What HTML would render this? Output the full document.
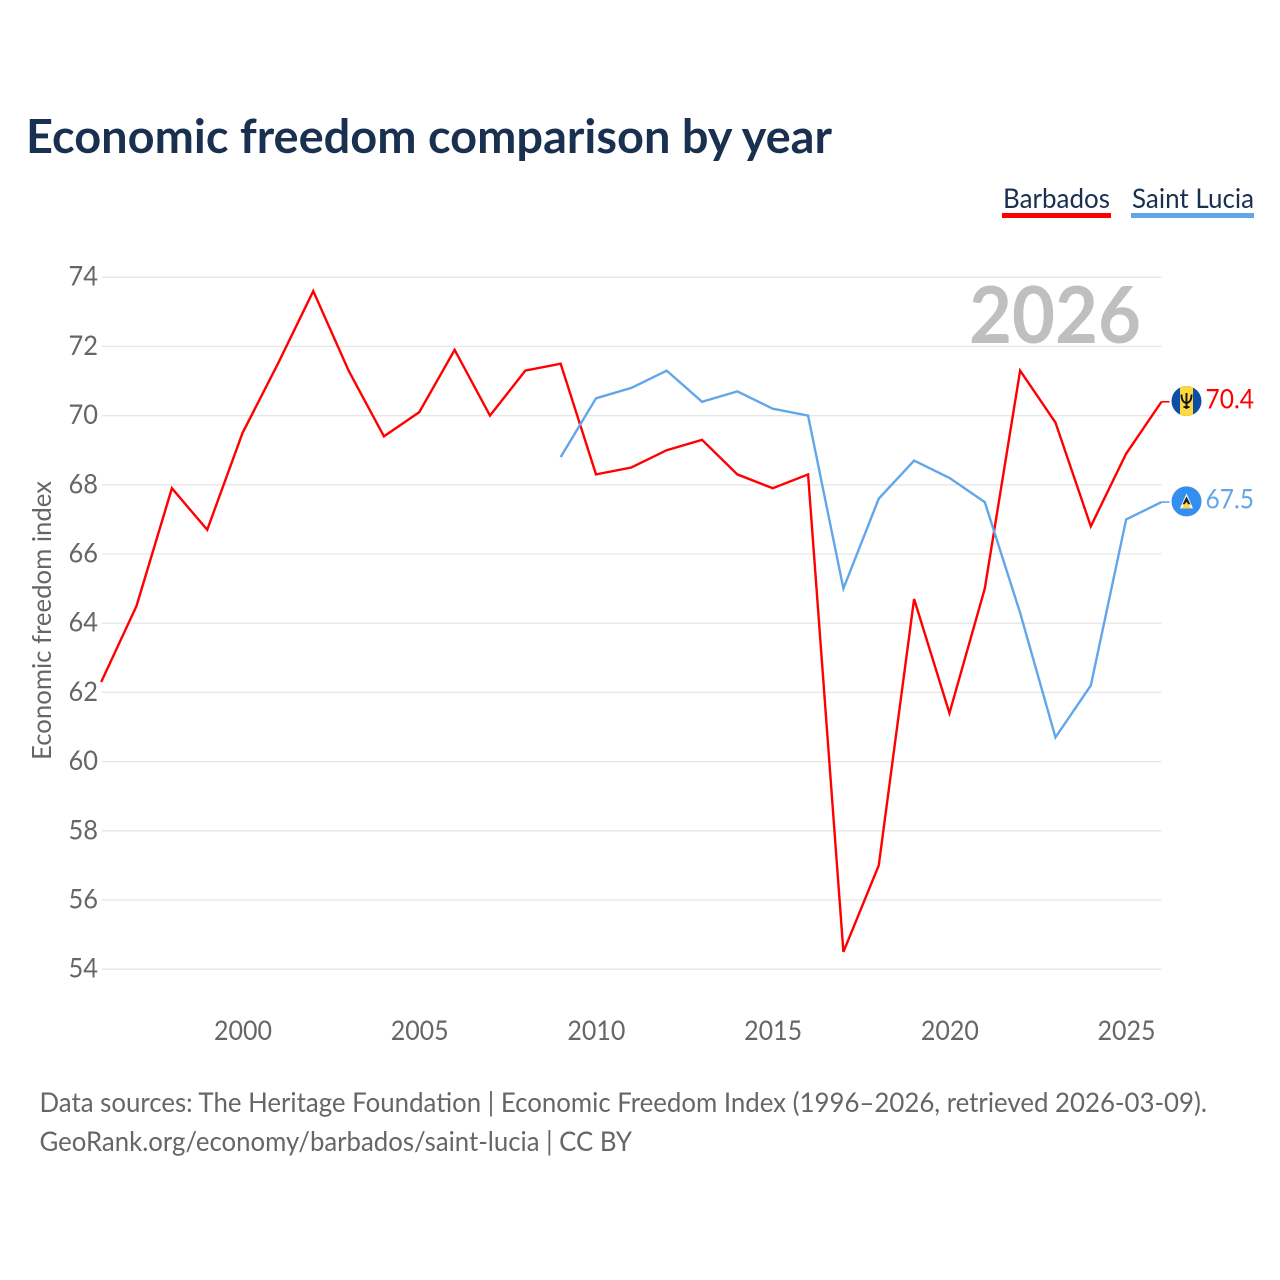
<!DOCTYPE html>
<html lang="en">
<head>
<meta charset="utf-8">
<title>Economic freedom comparison by year</title>
<style>
html,body{margin:0;padding:0;background:#fff;}
svg{display:block;}
text{font-family:"Lato","Carlito","Liberation Sans",sans-serif;}
</style>
</head>
<body>
<svg id="chart" xmlns="http://www.w3.org/2000/svg" width="1280" height="1280" viewBox="0 0 1280 1280">
  <rect width="1280" height="1280" fill="#ffffff"/>
  <text x="26" y="153" font-size="47" font-weight="700" fill="#1a3050" textLength="806" lengthAdjust="spacingAndGlyphs">Economic freedom comparison by year</text>

  <g>
    <g>
      <text x="1003" y="208" font-size="27" fill="#1a3050" textLength="107" lengthAdjust="spacingAndGlyphs">Barbados</text>
      <rect x="1002" y="213" width="109" height="5" fill="#ff0000"/>
    </g>
    <g>
      <text x="1132" y="208" font-size="27" fill="#1a3050" textLength="122" lengthAdjust="spacingAndGlyphs">Saint Lucia</text>
      <rect x="1131" y="213" width="123" height="5" fill="#62a6ea"/>
    </g>
  </g>

  <g id="grid"></g>
  <g id="yTicks"></g>
  <g id="xTicks"></g>

  <text transform="translate(51 760) rotate(-90)" font-size="26" fill="#666666" textLength="279" lengthAdjust="spacingAndGlyphs">Economic freedom index</text>
  <text id="yearWatermark" x="969" y="343" font-size="79" font-weight="700" fill="#bfbfbf" textLength="172" lengthAdjust="spacingAndGlyphs">2026</text>

  <g id="series"></g>
  <g id="ends"></g>

  <text x="39.5" y="1112" font-size="27" fill="#666666" textLength="1167.5" lengthAdjust="spacingAndGlyphs">Data sources: The Heritage Foundation | Economic Freedom Index (1996–2026, retrieved 2026-03-09).</text>
  <text x="39.5" y="1151" font-size="27" fill="#666666" textLength="592.5" lengthAdjust="spacingAndGlyphs">GeoRank.org/economy/barbados/saint-lucia | CC BY</text>
</svg>
<script>
const years = [1996,1997,1998,1999,2000,2001,2002,2003,2004,2005,2006,2007,2008,2009,2010,2011,2012,2013,2014,2015,2016,2017,2018,2019,2020,2021,2022,2023,2024,2025,2026];
const barbados = [62.3,64.5,67.9,66.7,69.5,71.5,73.6,71.3,69.4,70.1,71.9,70.0,71.3,71.5,68.3,68.5,69.0,69.3,68.3,67.9,68.3,54.5,57.0,64.7,61.4,65.0,71.3,69.8,66.8,68.9,70.4];
const saintLucia = [null,null,null,null,null,null,null,null,null,null,null,null,null,68.8,70.5,70.8,71.3,70.4,70.7,70.2,70.0,65.0,67.6,68.7,68.2,67.5,64.3,60.7,62.2,67.0,67.5];
const yTickLabels = [54,56,58,60,62,64,66,68,70,72,74];
const xTickLabels = [2000,2005,2010,2015,2020,2025];

const NS = 'http://www.w3.org/2000/svg';
const xScale = function (year) { return 101.2 + (year - 1996) * (1161.5 - 101.2) / 30; };
const yScale = function (value) { return 969.2 - (value - 54) * (969.2 - 277.2) / 20; };
const make = function (tag, parent) {
  const node = document.createElementNS(NS, tag);
  parent.appendChild(node);
  return node;
};
const gridGroup = document.getElementById('grid');
const yGroup = document.getElementById('yTicks');
const xGroup = document.getElementById('xTicks');
const seriesGroup = document.getElementById('series');
const endsGroup = document.getElementById('ends');

yTickLabels.forEach(function (tick) {
  const line = make('line', gridGroup);
  
  
  line.setAttribute('x1', 102);
  line.setAttribute('x2', 1161.5);
  line.setAttribute('y1', yScale(tick));
  line.setAttribute('y2', yScale(tick));
  line.setAttribute('stroke', '#e6e6e6');
  line.setAttribute('stroke-width', 1.3);
  const label = make('text', yGroup);
  
  
  label.setAttribute('x', 98);
  label.setAttribute('y', yScale(tick) + 8.5);
  label.setAttribute('text-anchor', 'end');
  label.setAttribute('font-size', 27);
  label.setAttribute('fill', '#666666');
  label.setAttribute('textLength', 29.5);
  label.setAttribute('lengthAdjust', 'spacingAndGlyphs');
  label.textContent = tick;
});

xTickLabels.forEach(function (tick) {
  const label = make('text', xGroup);
  
  
  label.setAttribute('x', xScale(tick) + 0.4);
  label.setAttribute('y', 1040);
  label.setAttribute('text-anchor', 'middle');
  label.setAttribute('font-size', 27);
  label.setAttribute('fill', '#666666');
  label.setAttribute('textLength', 58);
  label.setAttribute('lengthAdjust', 'spacingAndGlyphs');
  label.textContent = tick;
});

const linePath = function (values) {
  let d = '';
  values.forEach(function (value, i) {
    if (value === null) { return; }
    d += (d === '' ? 'M' : 'L') + xScale(years[i]).toFixed(2) + ' ' + yScale(value).toFixed(2);
  });
  return d;
};

const barbadosLine = make('path', seriesGroup);


barbadosLine.setAttribute('d', linePath(barbados));
barbadosLine.setAttribute('fill', 'none');
barbadosLine.setAttribute('stroke', '#ff0000');
barbadosLine.setAttribute('stroke-width', 2.4);

const luciaLine = make('path', seriesGroup);


luciaLine.setAttribute('d', linePath(saintLucia));
luciaLine.setAttribute('fill', 'none');
luciaLine.setAttribute('stroke', '#62a6ea');
luciaLine.setAttribute('stroke-width', 2.4);

const endY1 = yScale(barbados[barbados.length - 1]);
const endY2 = yScale(saintLucia[saintLucia.length - 1]);
const endX = xScale(years[years.length - 1]);
const fx = endX + 25;

const stub1 = make('line', endsGroup);


stub1.setAttribute('x1', endX);
stub1.setAttribute('x2', endX + 8);
stub1.setAttribute('y1', endY1);
stub1.setAttribute('y2', endY1);
stub1.setAttribute('stroke', '#ff0000');
stub1.setAttribute('stroke-width', 1.6);

const stub2 = make('line', endsGroup);


stub2.setAttribute('x1', endX);
stub2.setAttribute('x2', endX + 8);
stub2.setAttribute('y1', endY2);
stub2.setAttribute('y2', endY2);
stub2.setAttribute('stroke', '#62a6ea');
stub2.setAttribute('stroke-width', 1.6);

const flagB = make('g', endsGroup);


flagB.setAttribute('transform', 'translate(' + fx + ' ' + (endY1 - 0.7) + ')');
flagB.innerHTML = '<circle r="15" fill="#0b4ea8"/>' +
  '<path d="M-6.5 -13.5A15 15 0 0 1 6.5 -13.5V13.5A15 15 0 0 1 -6.5 13.5Z" fill="#ffd83d"/>' +
  '<path d="M0 -8V8M-5 -6.5C-5 -1.5 -3.5 1.5 0 2C3.5 1.5 5 -1.5 5 -6.5M-3 6H3" fill="none" stroke="#111111" stroke-width="1.9"/>';

const flagL = make('g', endsGroup);


flagL.setAttribute('transform', 'translate(' + fx + ' ' + (endY2 - 0.7) + ')');
flagL.innerHTML = '<circle r="15" fill="#338ef0"/>' +
  '<path d="M0 -8L6.5 7H-6.5Z" fill="#ffffff"/>' +
  '<path d="M0 -5L4 3H-4Z" fill="#222222"/>' +
  '<path d="M0 0.5L5 7H-5Z" fill="#ffd83d"/>';

const valueB = make('text', endsGroup);


valueB.setAttribute('x', 1205.5);
valueB.setAttribute('y', endY1 + 6.5);
valueB.setAttribute('font-size', 27);
valueB.setAttribute('fill', '#ff0000');
valueB.setAttribute('textLength', 48.5);
valueB.setAttribute('lengthAdjust', 'spacingAndGlyphs');
valueB.textContent = barbados[barbados.length - 1].toFixed(1);

const valueL = make('text', endsGroup);


valueL.setAttribute('x', 1205.5);
valueL.setAttribute('y', endY2 + 6.5);
valueL.setAttribute('font-size', 27);
valueL.setAttribute('fill', '#62a6ea');
valueL.setAttribute('textLength', 48.5);
valueL.setAttribute('lengthAdjust', 'spacingAndGlyphs');
valueL.textContent = saintLucia[saintLucia.length - 1].toFixed(1);
</script>
</body>
</html>
